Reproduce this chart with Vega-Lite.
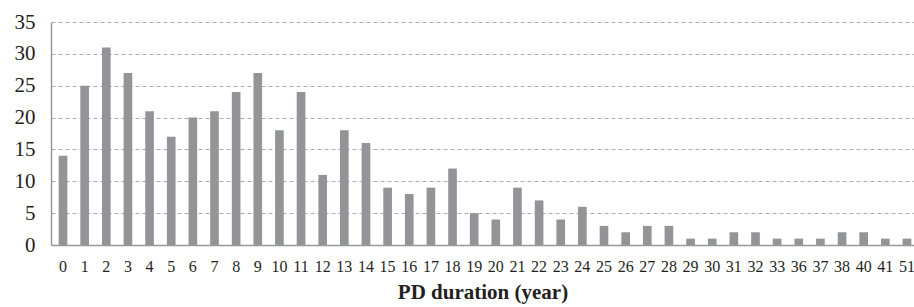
{
  "$schema": "https://vega.github.io/schema/vega-lite/v6.json",
  "width": 863,
  "height": 223,
  "autosize": "none",
  "padding": {"left": 51, "top": 22, "right": 0, "bottom": 62},
  "background": "white",
  "data": {"values": [
    {"d": "0", "n": 14}, {"d": "1", "n": 25}, {"d": "2", "n": 31}, {"d": "3", "n": 27},
    {"d": "4", "n": 21}, {"d": "5", "n": 17}, {"d": "6", "n": 20}, {"d": "7", "n": 21},
    {"d": "8", "n": 24}, {"d": "9", "n": 27}, {"d": "10", "n": 18}, {"d": "11", "n": 24},
    {"d": "12", "n": 11}, {"d": "13", "n": 18}, {"d": "14", "n": 16}, {"d": "15", "n": 9},
    {"d": "16", "n": 8}, {"d": "17", "n": 9}, {"d": "18", "n": 12}, {"d": "19", "n": 5},
    {"d": "20", "n": 4}, {"d": "21", "n": 9}, {"d": "22", "n": 7}, {"d": "23", "n": 4},
    {"d": "24", "n": 6}, {"d": "25", "n": 3}, {"d": "26", "n": 2}, {"d": "27", "n": 3},
    {"d": "28", "n": 3}, {"d": "29", "n": 1}, {"d": "30", "n": 1}, {"d": "31", "n": 2},
    {"d": "32", "n": 2}, {"d": "33", "n": 1}, {"d": "36", "n": 1}, {"d": "37", "n": 1},
    {"d": "38", "n": 2}, {"d": "40", "n": 2}, {"d": "41", "n": 1}, {"d": "51", "n": 1}
  ]},
  "mark": {"type": "bar", "color": "#939497"},
  "encoding": {
    "x": {
      "field": "d", "type": "ordinal", "sort": null,
      "scale": {"paddingInner": 0.6, "paddingOuter": 0.24, "align": 0.74},
      "axis": {
        "title": "PD duration (year)",
        "titleFont": "Liberation Serif, DejaVu Serif, serif", "titleFontSize": 21, "titleFontWeight": "bold",
        "titleColor": "#231f20", "titlePadding": 7,
        "labelFont": "Liberation Serif, DejaVu Serif, serif", "labelFontSize": 16, "labelColor": "#231f20",
        "labelAngle": 0, "labelPadding": 13, "ticks": false, "labelOverlap": false,
        "domainColor": "#999999", "domainWidth": 1.5, "grid": false
      }
    },
    "y": {
      "field": "n", "type": "quantitative",
      "scale": {"domain": [0, 35]},
      "axis": {
        "title": null, "values": [0, 5, 10, 15, 20, 25, 30, 35],
        "labelFont": "Liberation Serif, DejaVu Serif, serif", "labelFontSize": 21, "labelColor": "#231f20",
        "labelPadding": 16, "ticks": false,
        "domainColor": "#999999", "domainWidth": 1.5,
        "grid": true, "gridColor": "#aaaaaa", "gridDash": [4, 3], "gridWidth": 1
      }
    }
  },
  "config": {"view": {"stroke": null}}
}
